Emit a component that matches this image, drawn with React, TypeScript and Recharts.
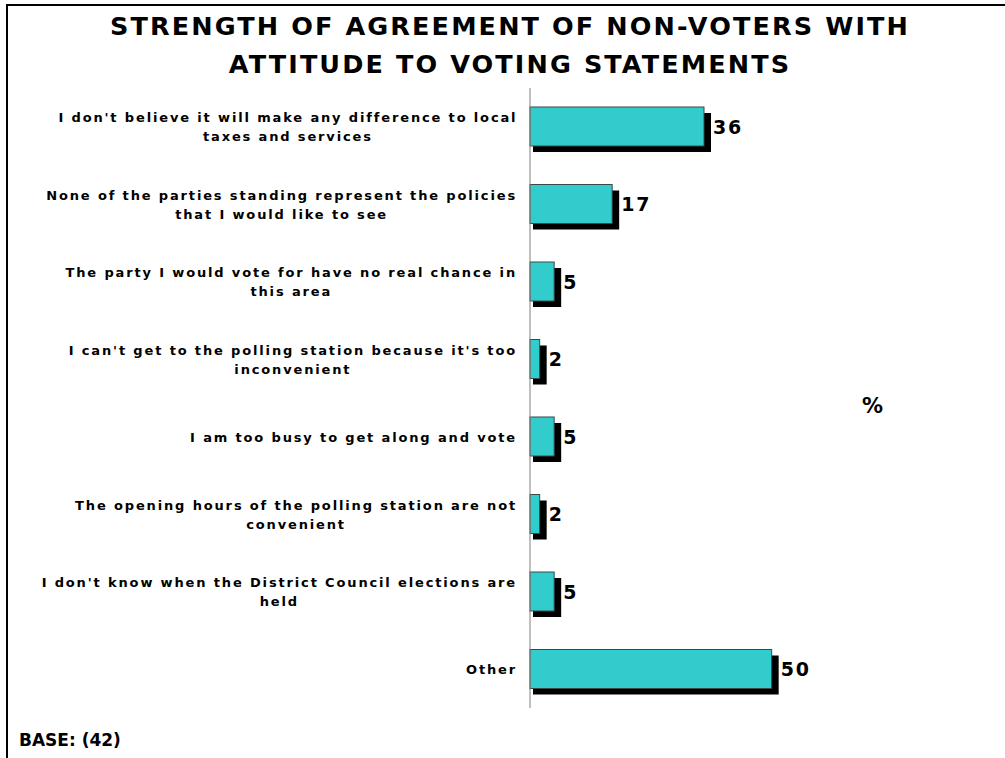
import React from "react";
import { BarChart, Bar, XAxis, YAxis, LabelList } from "recharts";

const statements = [
  "I don't believe it will make any difference to local\ntaxes and services",
  "None of the parties standing represent the policies\nthat I would like to see",
  "The party I would vote for have no real chance in\nthis area",
  "I can't get to the polling station because it's too\ninconvenient",
  "I am too busy to get along and vote",
  "The opening hours of the polling station are not\nconvenient",
  "I don't know when the District Council elections are\nheld",
  "Other",
];
const agreePct = [36, 17, 5, 2, 5, 2, 5, 50];

const data = statements.map((s, i) => ({ name: s, value: agreePct[i] }));

const FONT = "'DejaVu Sans', Verdana, sans-serif";
const TICK_SIZE = 13;
const TICK_SPACING = 1.85;

let ctx: CanvasRenderingContext2D | null = null;
function textWidth(s: string) {
  if (!ctx) ctx = document.createElement("canvas").getContext("2d");
  if (!ctx) return s.length * 9;
  ctx.font = `bold ${TICK_SIZE}px ${FONT}`;
  return ctx.measureText(s).width + TICK_SPACING * s.length;
}

function StatementTick(props: any) {
  const { x, y, payload } = props;
  const lines: string[] = String(payload.value).split("\n");
  const w = Math.max(...lines.map(textWidth));
  const cx = x - w / 2;
  const lh = 19;
  const top = y - ((lines.length - 1) * lh) / 2;
  return (
    <g>
      {lines.map((ln, i) => (
        <text
          key={i}
          x={cx}
          y={top + i * lh}
          dy={5}
          textAnchor="middle"
          fontFamily={FONT}
          fontWeight="bold"
          fontSize={TICK_SIZE}
          letterSpacing={TICK_SPACING}
          fill="#000"
        >
          {ln}
        </text>
      ))}
    </g>
  );
}

function ShadowBar(props: any) {
  const { x, y, width, height } = props;
  return (
    <g>
      <rect x={x + 3} y={y + 6} width={width + 4} height={height} fill="#000" />
      <rect x={x} y={y} width={width} height={height} fill="#33CCCC" stroke="#3a4a4a" strokeWidth={1} />
    </g>
  );
}

function ValueLabel(props: any) {
  const { x, y, width, height, value } = props;
  return (
    <text
      x={x + width + 9}
      y={y + height / 2}
      dy={7}
      fontFamily={FONT}
      fontWeight="bold"
      fontSize={19}
      letterSpacing={1.8}
      fill="#000"
    >
      {value}
    </text>
  );
}

export default function App() {
  return (
    <div style={{ position: "absolute", left: 0, top: 0, width: 1005, height: 758, background: "#fff", fontFamily: FONT }}>
      <div style={{ position: "absolute", left: 6, top: 4, width: 999, height: 754, borderTop: "2px solid #000", borderLeft: "2px solid #000" }} />
      <div
        style={{
          position: "absolute",
          left: 0,
          width: 1020,
          top: 7,
          textAlign: "center",
          fontWeight: "bold",
          fontSize: 25.5,
          letterSpacing: 2.1,
          lineHeight: "38px",
        }}
      >
        STRENGTH OF AGREEMENT OF NON-VOTERS WITH
        <br />
        ATTITUDE TO VOTING STATEMENTS
      </div>
      <div style={{ position: "absolute", left: 862, top: 394, fontWeight: "bold", fontSize: 21 }}>%</div>
      <div style={{ position: "absolute", left: 19, top: 730, fontWeight: "bold", fontSize: 17 }}>BASE: (42)</div>
      <div style={{ position: "absolute", left: 0, top: 0 }}>
        <BarChart
          width={1005}
          height={758}
          data={data}
          layout="vertical"
          margin={{ top: 88, right: 185, bottom: 50, left: 0 }}
          barCategoryGap="25%"
        >
          <XAxis type="number" domain={[0, 60]} hide />
          <YAxis
            type="category"
            dataKey="name"
            width={530}
            axisLine={{ stroke: "#808080" }}
            tickLine={false}
            tickSize={0}
            tickMargin={13}
            tick={<StatementTick />}
            interval={0}
          />
          <Bar dataKey="value" barSize={39} shape={<ShadowBar />} isAnimationActive={false}>
            <LabelList dataKey="value" content={<ValueLabel />} />
          </Bar>
        </BarChart>
      </div>
    </div>
  );
}
